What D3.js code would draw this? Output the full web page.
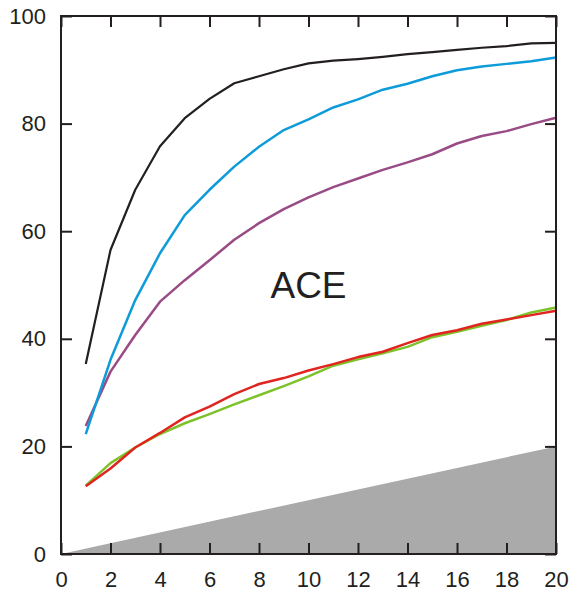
<!DOCTYPE html>
<html>
<head>
<meta charset="utf-8">
<script src="https://cdn.jsdelivr.net/npm/d3@7"></script>
<style>
  body { margin: 0; background: #fff; }
  .tick text { font-family: "Liberation Sans", Arial, sans-serif; font-size: 22px; fill: #231f20; }
</style>
</head>
<body>
<div id="vis"></div>
<script>
const xs = d3.range(1, 21);
const black  = [35.3, 56.5, 67.7, 75.8, 81.0, 84.6, 87.5, 88.8, 90.1, 91.2, 91.7, 92.0, 92.4, 92.9, 93.3, 93.7, 94.1, 94.4, 94.9, 95.0];
const blue   = [22.3, 36.1, 47.2, 55.9, 63.0, 67.7, 72.0, 75.7, 78.8, 80.8, 83.0, 84.5, 86.3, 87.4, 88.8, 89.9, 90.6, 91.1, 91.6, 92.3];
const purple = [23.8, 33.9, 40.7, 46.9, 50.9, 54.6, 58.4, 61.5, 64.1, 66.3, 68.2, 69.8, 71.4, 72.8, 74.3, 76.3, 77.7, 78.6, 79.9, 81.1];
const green  = [12.7, 16.9, 19.8, 22.3, 24.3, 26.0, 27.8, 29.5, 31.2, 33.0, 35.0, 36.2, 37.3, 38.5, 40.3, 41.3, 42.4, 43.5, 44.9, 45.8];
const red    = [12.6, 15.9, 19.8, 22.5, 25.4, 27.4, 29.7, 31.6, 32.7, 34.1, 35.3, 36.6, 37.6, 39.2, 40.7, 41.6, 42.8, 43.6, 44.4, 45.2];
// random-guess baseline: y = x
const baseline = [[0, 0], [20, 20], [20, 0]];
const xTicks = [0, 2, 4, 6, 8, 10, 12, 14, 16, 18, 20];
const yTicks = [0, 20, 40, 60, 80, 100];

const series = [
  {values: green,  color: '#7dc22b', w: 2.5},
  {values: red,    color: '#e0241f', w: 2.5},
  {values: purple, color: '#984b85', w: 2.5},
  {values: blue,   color: '#0e9bd9', w: 2.5},
  {values: black,  color: '#231f20', w: 2.2}
];

const margin = {top: 16, right: 16, bottom: 46, left: 61};
const width = 572 - margin.left - margin.right;
const height = 600 - margin.top - margin.bottom;

const svg = d3.select('#vis')
    .append('svg')
    .attr('width', 572)
    .attr('height', 600)
    .append('g')
    .attr('transform', `translate(${margin.left},${margin.top})`);

const xScale = d3.scaleLinear().domain([0, 20]).range([0, width]);
const yScale = d3.scaleLinear().domain([0, 100]).range([height, 0]);

// gray triangle
svg.append('path')
    .datum(baseline)
    .attr('d', d3.line().x(d => xScale(d[0])).y(d => yScale(d[1])))
    .attr('fill', '#aaaaaa');

const line = d3.line()
    .x((d, i) => xScale(xs[i]))
    .y(d => yScale(d));

series.forEach(s => {
  svg.append('path')
      .datum(s.values)
      .attr('d', line)
      .attr('fill', 'none')
      .attr('stroke', s.color)
      .attr('stroke-width', s.w)
      .attr('stroke-linejoin', 'round');
});

svg.append('text')
    .attr('x', xScale(10))
    .attr('y', yScale(47.5))
    .attr('text-anchor', 'middle')
    .style('font-family', '"Liberation Sans", Arial, sans-serif')
    .style('font-size', '37px')
    .style('fill', '#231f20')
    .text('ACE');

function styleAxis(g) {
  g.select('.domain').remove();
  g.selectAll('.tick line').attr('stroke', '#231f20').attr('stroke-width', 2);
}

svg.append('g')
    .attr('transform', `translate(0,${height})`)
    .call(d3.axisBottom(xScale).tickValues(xTicks).tickSize(-11).tickPadding(17.5))
    .call(styleAxis);

svg.append('g')
    .call(d3.axisTop(xScale).tickValues(xTicks).tickSize(-11).tickFormat(''))
    .call(styleAxis);

svg.append('g')
    .call(d3.axisLeft(yScale).tickValues(yTicks).tickSize(-11).tickPadding(15))
    .call(styleAxis);

svg.append('g')
    .attr('transform', `translate(${width},0)`)
    .call(d3.axisRight(yScale).tickValues(yTicks).tickSize(-11).tickFormat(''))
    .call(styleAxis);

// frame
svg.append('rect')
    .attr('x', 0).attr('y', 0)
    .attr('width', width).attr('height', height)
    .attr('fill', 'none')
    .attr('stroke', '#231f20')
    .attr('stroke-width', 2);
</script>
</body>
</html>
